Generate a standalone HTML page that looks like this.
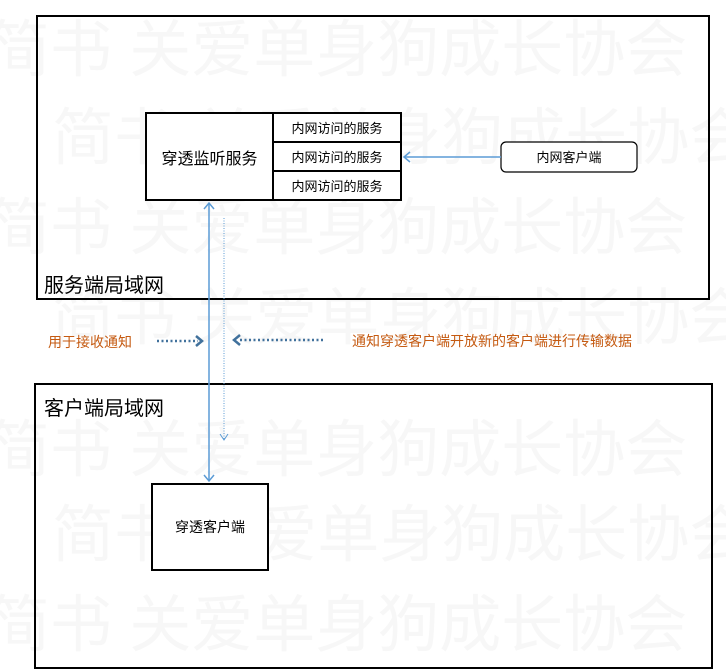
<!DOCTYPE html>
<html><head><meta charset="utf-8"><style>
body{margin:0;width:726px;height:670px;background:#fff;position:relative;overflow:hidden;font-family:"Liberation Sans","Noto Sans CJK SC",sans-serif}
.wm{position:absolute;font-size:62px;color:#f7f7f7;white-space:nowrap;line-height:1}
.a{position:absolute}
</style></head><body>
<div class="wm" style="left:-12px;top:20px">简书 关爱单身狗成长协会</div>
<div class="wm" style="left:52px;top:108px">简书 关爱单身狗成长协会</div>
<div class="wm" style="left:-12px;top:198px">简书 关爱单身狗成长协会</div>
<div class="wm" style="left:52px;top:288px">简书 关爱单身狗成长协会</div>
<div class="wm" style="left:-12px;top:420px">简书 关爱单身狗成长协会</div>
<div class="wm" style="left:52px;top:505px">简书 关爱单身狗成长协会</div>
<div class="wm" style="left:-12px;top:595px">简书 关爱单身狗成长协会</div>
<svg class="a" style="left:0;top:0" width="726" height="670">
<rect x="37" y="16" width="672" height="283" fill="none" stroke="#000" stroke-width="2"/>
<rect x="35" y="384" width="677" height="284" fill="none" stroke="#000" stroke-width="2"/>
<rect x="146" y="113" width="255" height="87" fill="#fff" stroke="#000" stroke-width="2"/>
<line x1="273" y1="113" x2="273" y2="200" stroke="#000" stroke-width="2"/>
<line x1="273" y1="142" x2="401" y2="142" stroke="#000" stroke-width="2"/>
<line x1="273" y1="171" x2="401" y2="171" stroke="#000" stroke-width="2"/>
<rect x="501" y="142" width="136" height="30" rx="5" fill="#fff" stroke="#000" stroke-width="1.2"/>
<rect x="152" y="484" width="116" height="86" fill="#fff" stroke="#000" stroke-width="2"/>
<g stroke="#5b9bd5" stroke-width="1.5" fill="none">
<line x1="501" y1="157" x2="404" y2="157"/><polyline points="410,152 404,157 410,162"/>
<line x1="209" y1="203" x2="209" y2="481"/><polyline points="204,209 209,203 214,209"/><polyline points="204,475 209,481 214,475"/>
</g>
<g stroke="#5b9bd5" stroke-width="1" stroke-dasharray="1,1.5" fill="none"><line x1="224" y1="218" x2="224" y2="440"/></g>
<polyline points="220,434 224,440 228,434" stroke="#5b9bd5" fill="none"/>
<g stroke="#41719c" stroke-width="2.5" stroke-dasharray="2,2.5" fill="none">
<line x1="157" y1="341" x2="198" y2="341"/><line x1="240" y1="340" x2="325" y2="340"/></g>
<polyline points="196,336 202,341 196,346" stroke="#41719c" stroke-width="2.5" fill="none"/>
<polyline points="240,335 234,340 240,345" stroke="#41719c" stroke-width="2.5" fill="none"/>
</svg>
<div class="a" style="left:146px;top:145px;width:127px;text-align:center;font-size:16px">穿透监听服务</div>
<div class="a" style="left:273px;top:118px;width:128px;text-align:center;font-size:13px">内网访问的服务</div>
<div class="a" style="left:273px;top:147px;width:128px;text-align:center;font-size:13px">内网访问的服务</div>
<div class="a" style="left:273px;top:176px;width:128px;text-align:center;font-size:13px">内网访问的服务</div>
<div class="a" style="left:501px;top:147px;width:136px;text-align:center;font-size:13px">内网客户端</div>
<div class="a" style="left:152px;top:517px;width:116px;text-align:center;font-size:14px">穿透客户端</div>
<div class="a" style="left:44px;top:269px;font-size:20px">服务端局域网</div>
<div class="a" style="left:44px;top:392px;font-size:20px">客户端局域网</div>
<div class="a" style="left:48px;top:332px;font-size:14px;color:#c55a11">用于接收通知</div>
<div class="a" style="left:352px;top:331px;font-size:14px;color:#c55a11">通知穿透客户端开放新的客户端进行传输数据</div>
</body></html>
